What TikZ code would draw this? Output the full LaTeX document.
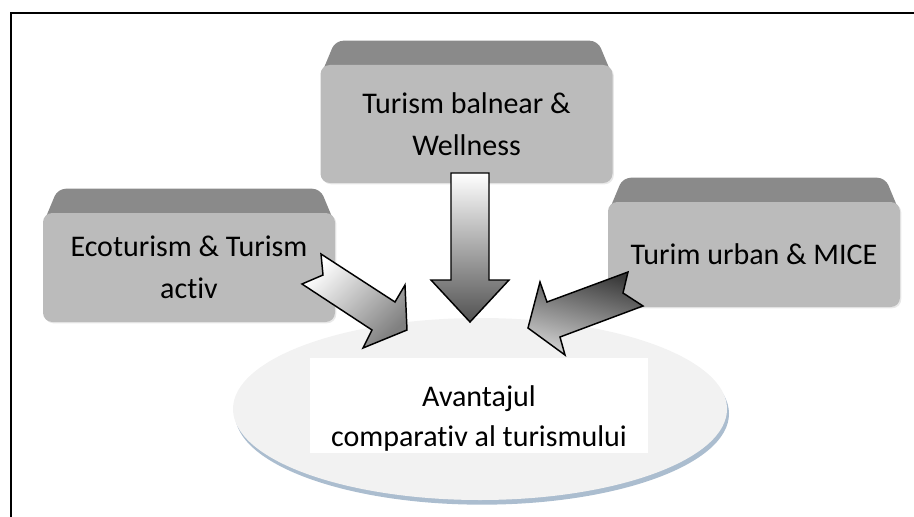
\documentclass[tikz,border=0pt]{standalone}
\usepackage{fontspec}
\setmainfont[Ligatures=NoCommon]{Carlito}
\usetikzlibrary{shapes.geometric, positioning, calc, backgrounds, shadows}
\definecolor{facegray}{RGB}{187, 187, 187}
\definecolor{bandgray}{RGB}{138, 138, 138}
\definecolor{corefill}{RGB}{242, 242, 242}
\definecolor{coreshadow}{RGB}{150, 172, 195}
\newcommand{\bevelband}[1]{%
  \begin{pgfonlayer}{background}
    \fill[bandgray, rounded corners=6pt] ($(#1.north west)+(0,12)$) -- ($(#1.north west)+(15,-24)$)
      -- ($(#1.north east)+(-15,-24)$) -- ($(#1.north east)+(0,12)$) -- cycle;
  \end{pgfonlayer}}

\begin{document}
\begin{tikzpicture}[x=0.75pt, y=-0.75pt,
            facebox/.style={fill=facegray, rounded corners=7pt, inner sep=0pt, minimum width=219pt, align=center,
                font=\fontsize{22.5}{31.5}\selectfont, drop shadow={opacity=0.18, shadow xshift=1pt, shadow yshift=-1pt}},
            blockarrow/.style={draw=black, line width=1.1pt, line join=miter}]
            \useasboundingbox (0,0) rectangle (914,517);
            \draw[line width=1.4pt] (11,517) -- (11,13) -- (914,13);

            \node[facebox, minimum height=88.5pt] (spa) at (466.5,124) {Turism balnear \&\\Wellness};
            \node[facebox, minimum height=81.75pt] (eco) at (189,267.5) {Ecoturism \& Turism\\activ};
            \node[facebox, minimum height=78.75pt] (urban) at (754,254.5) {Turim urban \& MICE};
            \bevelband{spa}
            \bevelband{eco}
            \bevelband{urban}

            \node[ellipse, fill=corefill, minimum width=370.5pt, minimum height=136.5pt,
                drop shadow={fill=coreshadow, opacity=0.8, shadow xshift=1.5pt, shadow yshift=-3.5pt}] (core) at (480,409) {};
            \node[fill=white, inner sep=0pt, minimum width=253.5pt, minimum height=71.25pt] (corebox) at (479,405.5) {};
            \node[align=center, font=\fontsize{22.5}{30}\selectfont] (coretext) at (479,418) {Avantajul\\comparativ al turismului};

            \shade[blockarrow, top color=white, bottom color=black!68]
                (451,173) -- (489,173) -- (489,280) -- (509,280) -- (470,322) -- (431,280) -- (451,280) -- cycle;
            \shade[blockarrow, top color=white, bottom color=black!50, shading angle=45]
                (321,254) -- (395,302) -- (405,285) -- (407,330) -- (363,348) -- (372,330) -- (302,284) -- (323,275) -- cycle;
            \shade[blockarrow, top color=black!78, bottom color=black!18, shading angle=-15]
                (628,272) -- (547,302) -- (540,282) -- (528,328) -- (565,355) -- (560,337) -- (643,306) -- (623,293) -- cycle;
        \end{tikzpicture}
\end{document}
